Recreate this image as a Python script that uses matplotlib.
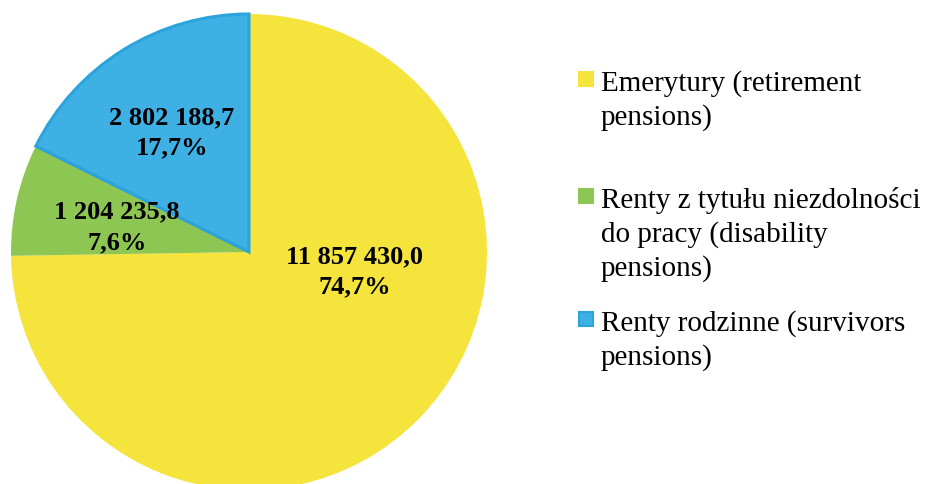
import matplotlib.pyplot as plt
from matplotlib.patches import Rectangle

# dane (tys. zl)
categories = ["Emerytury (retirement\npensions)",
              "Renty z tytułu niezdolności\ndo pracy (disability\npensions)",
              "Renty rodzinne (survivors\npensions)"]
values = [11857430.0, 1204235.8, 2802188.7]
value_labels = ["11 857 430,0", "1 204 235,8", "2 802 188,7"]
pct_labels = ["74,7%", "7,6%", "17,7%"]
colors = ["#F4E43C", "#8DC652", "#3FB0E4"]

W, H = 925, 485
cx, cy, R = 249, 253, 238

fig = plt.figure(figsize=(W / 100, H / 100), dpi=100)
ax = fig.add_axes([0, 0, 1, 1])

wedges, _ = ax.pie(values, colors=colors, startangle=90, counterclock=False,
                   radius=1, wedgeprops=dict(linewidth=0))
wedges[2].set_edgecolor("#2BA3DC")
wedges[2].set_linewidth(2.2)

ax.set_xlim(-cx / R, (W - cx) / R)
ax.set_ylim(-(H - cy) / R, cy / R)
ax.set_aspect("equal")
ax.axis("off")

# polozenie etykiet wewnatrz wycinkow
label_pos = [(0.445, -0.08), (-0.555, 0.108), (-0.324, 0.504)]
for (x, y), v, p in zip(label_pos, value_labels, pct_labels):
    ax.text(x, y, v + "\n" + p, ha="center", va="center", fontsize=19,
            fontweight="bold", family="Liberation Serif", linespacing=1.4)

# legenda
leg_y = [80, 197, 320]
for y, lab, c in zip(leg_y, categories, colors):
    fig.text(601 / W, 1 - (y - 10) / H, lab, ha="left", va="top", fontsize=21,
             family="Liberation Serif", linespacing=1.34)
    ec = "#2BA3DC" if c == colors[2] else c
    fig.patches.append(Rectangle((579 / W, 1 - (y + 7) / H), 14 / W, 14 / H,
                                 transform=fig.transFigure, facecolor=c,
                                 edgecolor=ec, linewidth=1.5))

fig.savefig("out.png", dpi=100)
